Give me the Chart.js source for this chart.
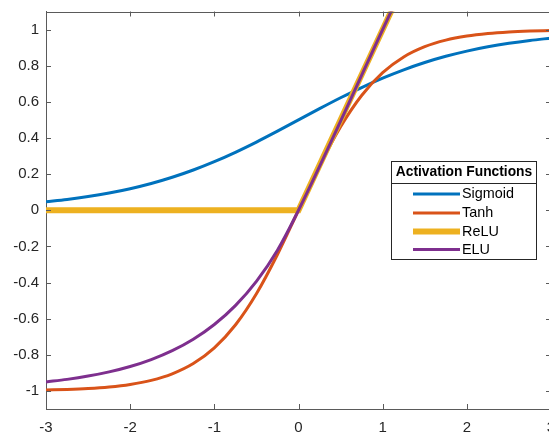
<!DOCTYPE html>
<html><head><meta charset="utf-8">
<script src="https://cdn.jsdelivr.net/npm/chart.js@4/dist/chart.umd.min.js"></script>
<style>html,body{margin:0;padding:0;background:#fff;overflow:hidden;width:549px;height:434px}canvas{display:block}</style>
</head><body>
<canvas id="c" width="553" height="434" style="width:553px;height:434px"></canvas>
<script>
const seriesNames = ['Sigmoid', 'Tanh', 'ReLU', 'ELU'];
const xValues = [-3,-2.75,-2.5,-2.25,-2,-1.75,-1.5,-1.25,-1,-0.75,-0.5,-0.25,0,0.25,0.5,0.75,1,1.25,1.5,1.75,2,2.25,2.5,2.75,3];
const sigmoidValues = [0.0474,0.0601,0.0759,0.0953,0.1192,0.1480,0.1824,0.2227,0.2689,0.3208,0.3775,0.4378,0.5,0.5622,0.6225,0.6792,0.7311,0.7773,0.8176,0.8520,0.8808,0.9047,0.9241,0.9399,0.9526];
const tanhValues = [-0.9951,-0.9918,-0.9866,-0.9780,-0.9640,-0.9414,-0.9051,-0.8483,-0.7616,-0.6351,-0.4621,-0.2449,0,0.2449,0.4621,0.6351,0.7616,0.8483,0.9051,0.9414,0.9640,0.9780,0.9866,0.9918,0.9951];
const reluX = [-3,0,3];
const reluValues = [0,0,3];
const eluX = [-3,-2.75,-2.5,-2.25,-2,-1.75,-1.5,-1.25,-1,-0.75,-0.5,-0.25,0,1,2,3];
const eluValues = [-0.9502,-0.9361,-0.9179,-0.8946,-0.8647,-0.8262,-0.7769,-0.7135,-0.6321,-0.5276,-0.3935,-0.2212,0,1,2,3];
const xTicks = [-3,-2,-1,0,1,2,3];
const yTicks = [-1,-0.8,-0.6,-0.4,-0.2,0,0.2,0.4,0.6,0.8,1];
const legendTitle = 'Activation Functions';

const colors = ['#0072BD','#D95319','#EDB120','#7E2F8E'];
const axisColor = '#262626';
const lineColor = '#5a5a5a';
const FONT = "'Liberation Sans', Arial, Helvetica, sans-serif";

const pairs = (xs, ys) => xs.map((x, i) => ({x, y: ys[i]}));

const inwardTicks = {
  id: 'inwardTicks',
  afterDatasetsDraw(chart) {
    const {ctx, chartArea: a, scales: {x, y}} = chart;
    ctx.save();
    ctx.strokeStyle = lineColor;
    ctx.lineWidth = 1;
    const L = 5;
    ctx.beginPath();
    ctx.moveTo(a.left, Math.round(a.top) + 0.5);
    ctx.lineTo(a.right, Math.round(a.top) + 0.5);
    ctx.moveTo(Math.round(a.right) - 0.5, a.top);
    ctx.lineTo(Math.round(a.right) - 0.5, a.bottom);
    x.ticks.forEach(t => {
      const px = Math.round(x.getPixelForValue(t.value)) + 0.5;
      ctx.moveTo(px, a.bottom); ctx.lineTo(px, a.bottom - L);
      ctx.moveTo(px, a.top); ctx.lineTo(px, a.top + L);
    });
    y.ticks.forEach(t => {
      const py = Math.round(y.getPixelForValue(t.value)) + 0.5;
      ctx.moveTo(a.left, py); ctx.lineTo(a.left + L, py);
      ctx.moveTo(a.right, py); ctx.lineTo(a.right - L, py);
    });
    ctx.stroke();
    ctx.restore();
  }
};

const boxLegend = {
  id: 'boxLegend',
  afterDraw(chart) {
    const ctx = chart.ctx;
    const bx = 391.5, by = 161.5, bw = 145, bh = 98;
    ctx.save();
    ctx.fillStyle = '#fff';
    ctx.fillRect(bx, by, bw, bh);
    ctx.strokeStyle = axisColor;
    ctx.lineWidth = 1;
    ctx.strokeRect(bx, by, bw, bh);
    ctx.beginPath();
    ctx.moveTo(bx, 183.5); ctx.lineTo(bx + bw, 183.5);
    ctx.stroke();
    ctx.fillStyle = '#000';
    ctx.font = 'bold 13.8px ' + FONT;
    ctx.textAlign = 'center';
    ctx.textBaseline = 'middle';
    ctx.fillText(legendTitle, bx + bw / 2, 172.5);
    ctx.font = '14.4px ' + FONT;
    ctx.textAlign = 'left';
    const rows = [194, 213, 231.5, 249.5];
    chart.data.datasets.forEach((ds, i) => {
      ctx.strokeStyle = ds.borderColor;
      ctx.lineWidth = ds.borderWidth;
      ctx.beginPath();
      ctx.moveTo(413, rows[i]); ctx.lineTo(460, rows[i]);
      ctx.stroke();
      ctx.fillStyle = '#000';
      ctx.fillText(ds.label, 462, rows[i] + 0.5);
    });
    ctx.restore();
  }
};

new Chart(document.getElementById('c'), {
  type: 'scatter',
  data: {
    datasets: [
      {label: seriesNames[0], data: pairs(xValues, sigmoidValues), borderColor: colors[0], borderWidth: 3, cubicInterpolationMode: 'monotone', order: 4},
      {label: seriesNames[1], data: pairs(xValues, tanhValues), borderColor: colors[1], borderWidth: 3, cubicInterpolationMode: 'monotone', order: 3},
      {label: seriesNames[2], data: pairs(reluX, reluValues), borderColor: colors[2], borderWidth: 6, order: 2},
      {label: seriesNames[3], data: pairs(eluX, eluValues), borderColor: colors[3], borderWidth: 3, cubicInterpolationMode: 'monotone', order: 1}
    ].map(d => Object.assign(d, {showLine: true, pointRadius: 0, pointHoverRadius: 0, backgroundColor: d.borderColor, fill: false}))
  },
  options: {
    responsive: false,
    animation: false,
    devicePixelRatio: 1,
    layout: {padding: {top: 11.5, right: 2, left: 0, bottom: 0}},
    plugins: {legend: {display: false}, tooltip: {enabled: false}},
    scales: {
      x: {
        type: 'linear', min: -3, max: 3,
        afterBuildTicks: s => { s.ticks = xTicks.map(v => ({value: v})); },
        afterFit: s => { s.height = 25; s.paddingLeft = 0; s.paddingRight = 0; },
        grid: {display: false, drawTicks: false},
        border: {display: true, color: lineColor, width: 1},
        ticks: {color: axisColor, font: {family: FONT, size: 15}, padding: 10, maxRotation: 0, autoSkip: false, callback: v => String(v)}
      },
      y: {
        type: 'linear', min: -1.1, max: 1.1,
        afterBuildTicks: s => { s.ticks = yTicks.map(v => ({value: v})); },
        afterFit: s => { s.width = 46; s.paddingTop = 0; s.paddingBottom = 0; },
        grid: {display: false, drawTicks: false},
        border: {display: true, color: lineColor, width: 1},
        ticks: {color: axisColor, font: {family: FONT, size: 15}, padding: 7, autoSkip: false, callback: v => String(Math.round(v * 10) / 10)}
      }
    }
  },
  plugins: [inwardTicks, boxLegend]
});
</script>
</body></html>
